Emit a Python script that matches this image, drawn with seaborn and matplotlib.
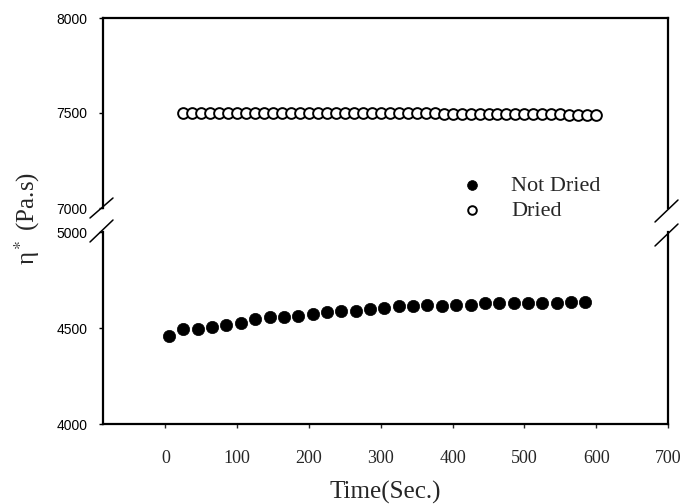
import matplotlib
matplotlib.use("Agg")
import matplotlib.pyplot as plt
import seaborn as sns
import pandas as pd

# ---- data ----
nd_time = [5, 25, 45, 65, 85, 105, 125, 145, 165, 185, 205, 225, 245, 265, 285,
           305, 325, 345, 365, 385, 405, 425, 445, 465, 485, 505, 525, 545, 565, 585]
nd_eta = [4460, 4497, 4497, 4505, 4517, 4526, 4546, 4555, 4555, 4564, 4572, 4581,
          4591, 4591, 4600, 4603, 4612, 4612, 4620, 4612, 4620, 4620, 4629, 4629,
          4629, 4629, 4629, 4629, 4637, 4637]

dr_time = [25, 37.5, 50, 62.5, 75, 87.5, 100, 112.5, 125, 137.5, 150, 162.5, 175,
           187.5, 200, 212.5, 225, 237.5, 250, 262.5, 275, 287.5, 300, 312.5, 325,
           337.5, 350, 362.5, 375, 387.5, 400, 412.5, 425, 437.5, 450, 462.5, 475,
           487.5, 500, 512.5, 525, 537.5, 550, 562.5, 575, 587.5, 600]
dr_eta = [7500, 7500, 7500, 7500, 7500, 7500, 7500, 7500, 7500, 7500, 7500, 7500,
          7500, 7500, 7500, 7500, 7500, 7500, 7500, 7500, 7500, 7500, 7500, 7500,
          7498, 7498, 7498, 7498, 7498, 7497, 7497, 7497, 7496, 7496, 7496, 7495,
          7495, 7495, 7494, 7494, 7494, 7493, 7493, 7492, 7492, 7492, 7491]

x_ticks = [0, 100, 200, 300, 400, 500, 600, 700]
upper_ticks = [7000, 7500, 8000]
lower_ticks = [4000, 4500, 5000]
labels = ["Not Dried", "Dried"]

df_nd = pd.DataFrame({"t": nd_time, "eta": nd_eta})
df_dr = pd.DataFrame({"t": dr_time, "eta": dr_eta})

sns.set_style("ticks")
plt.rcParams["font.family"] = ["Liberation Serif", "DejaVu Serif"]
plt.rcParams["mathtext.fontset"] = "stix"

W, H = 682, 504
fig = plt.figure(figsize=(W / 100, H / 100), dpi=100)

L, R = 103, 668
def rect(top, bottom):
    return [L / W, 1 - bottom / H, (R - L) / W, (bottom - top) / H]

ax_up = fig.add_axes(rect(18, 208))
ax_lo = fig.add_axes(rect(232, 424))

for ax, lim, ticks in [(ax_up, (7000, 8000), upper_ticks),
                       (ax_lo, (4000, 5000), lower_ticks)]:
    ax.set_xlim(-87, 700)
    ax.set_ylim(*lim)
    ax.set_yticks(ticks)
    ax.set_yticklabels([str(t) for t in ticks], family="Liberation Sans", fontsize=10)
    for s in ax.spines.values():
        s.set_linewidth(1.6)
        s.set_color("black")
    ax.tick_params(axis="y", direction="out", length=3, width=1, pad=8, colors="black")
    ax.set_facecolor("white")

# scatter
sns.scatterplot(data=df_nd, x="t", y="eta", ax=ax_lo, color="black",
                s=78, edgecolor="black", linewidth=0.5, legend=False)
sns.scatterplot(data=df_nd, x="t", y="eta", ax=ax_up, color="black",
                s=78, edgecolor="black", linewidth=0.5, legend=False)
sns.scatterplot(data=df_dr, x="t", y="eta", ax=ax_up, facecolor="white",
                s=60, edgecolor="black", linewidth=1.4, legend=False)
sns.scatterplot(data=df_dr, x="t", y="eta", ax=ax_lo, facecolor="white",
                s=60, edgecolor="black", linewidth=1.4, legend=False)

ax_up.spines["bottom"].set_visible(False)
ax_lo.spines["top"].set_visible(False)
ax_up.tick_params(axis="x", bottom=False, labelbottom=False)
ax_up.set_xlabel("")
ax_up.set_ylabel("")
ax_lo.set_ylabel("")
ax_lo.set_xticks(x_ticks)
ax_lo.set_xticklabels([str(t) for t in x_ticks], fontsize=13)
ax_lo.tick_params(axis="x", direction="out", length=3, width=1, pad=16)
ax_lo.set_xlabel("Time(Sec.)", fontsize=18, labelpad=10)

# break marks
kw = dict(color="black", linewidth=1.1, clip_on=False)
dx_l, dx_r = 13 / (R - L), 10 / (R - L)
ax_up.plot([-dx_l, dx_r], [-10 / 190, 10 / 190], transform=ax_up.transAxes, **kw)
ax_up.plot([1 - dx_l, 1 + dx_r], [-14 / 190, 8 / 190], transform=ax_up.transAxes, **kw)
ax_lo.plot([-dx_l, dx_r], [1 - 10 / 192, 1 + 12 / 192], transform=ax_lo.transAxes, **kw)
ax_lo.plot([1 - dx_l, 1 + dx_r], [1 - 14 / 192, 1 + 8 / 192], transform=ax_lo.transAxes, **kw)

# y label
fig.text(27 / W, 1 - 218 / H, "η$^*$ (Pa.s)", rotation=90, fontsize=18,
         ha="center", va="center")

# legend
h_nd = ax_lo.collections[0]
h_dr = ax_up.collections[1]
fig.legend([h_nd, h_dr], labels, loc="upper left",
           bbox_to_anchor=(462 / W, 1 - 175 / H), frameon=False, fontsize=16,
           handlelength=0.9, handletextpad=1.3, labelspacing=0.2,
           borderpad=0, borderaxespad=0, markerscale=0.8)

fig.savefig("out.png", dpi=100)
